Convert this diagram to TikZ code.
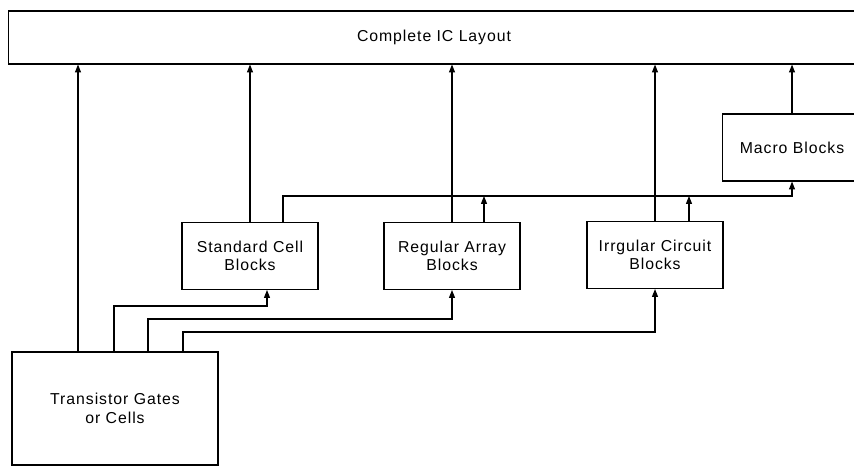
\documentclass[tikz,border=0pt]{standalone}
\usepackage{fontspec}
\setmainfont[LetterSpace=6]{Liberation Sans}
\usepackage{tikz}
\usetikzlibrary{arrows.meta, positioning}

\begin{document}
\begin{tikzpicture}[
    x=0.02cm, y=-0.02cm,
    box/.style={rectangle, draw, line width=0.6pt, minimum width=2.72cm, minimum height=1.34cm, align=center, text centered, font=\fontsize{9}{10.5}\selectfont},
    arrow/.style={-{Triangle[length=4.5pt, width=3.4pt]}, line width=0.6pt}
]
    \useasboundingbox (0,0) rectangle (854,466);
    \clip (0,0) rectangle (854,466);

    % Nodes
    \node[box, minimum width=17.04cm, minimum height=1.06cm] (layout) at (434,37.5) {Complete IC Layout};
    \node[box, minimum width=2.8cm] (macro) at (792,147.5) {Macro Blocks};

    % Middle row
    \node[box] (stdcell) at (250,256) {Standard Cell\\Blocks};
    \node[box] (array) at (452,256) {Regular Array\\Blocks};
    \node[box] (irregular) at (655,255) {Irrgular Circuit\\Blocks};

    % Bottom
    \node[box, minimum width=4.12cm, minimum height=2.26cm] (gates) at (115,408.5) {Transistor Gates\\or Cells};

    \coordinate (bus) at (283,196);

    % Arrows
    \draw[arrow] (gates.north -| 78,0) -- (layout.south -| 78,0);
    \draw[arrow] (stdcell.north) -- (stdcell.north |- layout.south);
    \draw[arrow] (array.north) -- (array.north |- layout.south);
    \draw[arrow] (irregular.north) -- (irregular.north |- layout.south);
    \draw[arrow] (macro.north) -- (macro.north |- layout.south);

    \draw[arrow] (stdcell.north -| bus) -- (bus) -| (macro.south);
    \draw[arrow] (array.north -| 484,0) -- (bus -| 484,0);
    \draw[arrow] (irregular.north -| 689,0) -- (bus -| 689,0);

    \draw[arrow] (gates.north -| 114,0) -- (114,306) -| (stdcell.south -| 267,0);
    \draw[arrow] (gates.north -| 148,0) -- (148,319) -| (array.south);
    \draw[arrow] (gates.north -| 183,0) -- (183,332) -| (irregular.south);

\end{tikzpicture}
\end{document}
